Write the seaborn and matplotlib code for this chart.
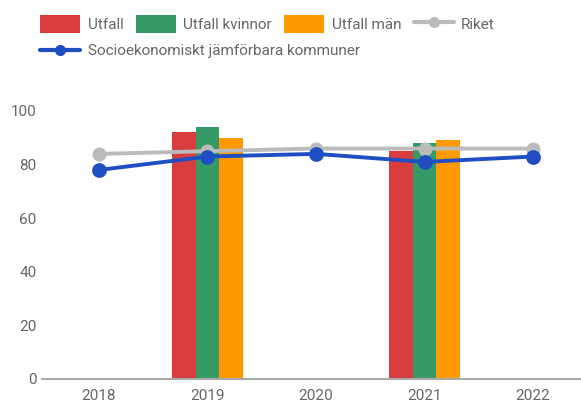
import matplotlib
matplotlib.use("Agg")
import matplotlib.pyplot as plt
from matplotlib.patches import Patch
from matplotlib.lines import Line2D
import seaborn as sns
import pandas as pd

# Data
years = ["2018", "2019", "2020", "2021", "2022"]
bar_years = ["2019", "2019", "2019", "2021", "2021", "2021"]
bar_series = ["Utfall", "Utfall kvinnor", "Utfall män",
              "Utfall", "Utfall kvinnor", "Utfall män"]
bar_values = [92, 94, 90, 85, 88, 89]
riket = [84, 85, 86, 86, 86]
socio = [78, 83, 84, 81, 83]
y_ticks = [0, 20, 40, 60, 80, 100]

series_names = ["Utfall", "Utfall kvinnor", "Utfall män"]
colors = {"Utfall": "#D93D3D", "Utfall kvinnor": "#359A66", "Utfall män": "#FF9900"}
gray = "#BBBBBB"
blue = "#1F4EC2"
text_color = "#666666"

sns.set_theme(style="white")
plt.rcParams["font.family"] = ["Roboto", "DejaVu Sans"]

W, H = 581, 405
fig = plt.figure(figsize=(W / 100, H / 100), dpi=100)
ax = fig.add_axes([42 / W, 26 / H, 1 - 42 / W, (379 - 111) / H])

df_bar = pd.DataFrame({"år": bar_years, "serie": bar_series, "värde": bar_values})
sns.barplot(data=df_bar, x="år", y="värde", hue="serie", order=years,
            hue_order=series_names, palette=colors, width=0.66, dodge=True,
            saturation=1, errorbar=None, legend=False, linewidth=0,
            ax=ax, zorder=2)

df_riket = pd.DataFrame({"år": years, "värde": riket})
df_socio = pd.DataFrame({"år": years, "värde": socio})
sns.pointplot(data=df_riket, x="år", y="värde", order=years, color=gray,
              markers="o", markersize=8, linewidth=2.8, errorbar=None, ax=ax)
sns.pointplot(data=df_socio, x="år", y="värde", order=years, color=blue,
              markers="o", markersize=8.5, linewidth=2.8, errorbar=None, ax=ax)

ax.set_xlim(-0.525, 4.442)
ax.set_ylim(0, 100)
ax.set_yticks(y_ticks)
ax.set_xlabel("")
ax.set_ylabel("")
for s in ["top", "right", "left"]:
    ax.spines[s].set_visible(False)
ax.spines["bottom"].set_color("#AAAAAA")
ax.spines["bottom"].set_linewidth(1.5)
ax.tick_params(axis="both", length=0, labelsize=11, colors=text_color)
ax.tick_params(axis="x", pad=7)
ax.tick_params(axis="y", pad=4)

# Legend, first row
handles1 = [Patch(facecolor=colors[n], edgecolor="none") for n in series_names]
handles1.append(Line2D([], [], color=gray, lw=3, marker="o", markersize=7))
labels1 = series_names + ["Riket"]
fig.legend(handles1, labels1, loc="center left",
           bbox_to_anchor=(40 / W, 1 - 24 / H), ncol=4, frameon=False,
           fontsize=11, handlelength=2.62, handleheight=1.5,
           handletextpad=0.5, columnspacing=0.8, borderpad=0,
           borderaxespad=0, labelcolor=text_color)
# Second row
handles2 = [Line2D([], [], color=blue, lw=3, marker="o", markersize=7)]
fig.legend(handles2, ["Socioekonomiskt jämförbara kommuner"], loc="center left",
           bbox_to_anchor=(40 / W, 1 - 51 / H), frameon=False, fontsize=11,
           handlelength=2.62, handletextpad=0.5, borderpad=0, borderaxespad=0,
           labelcolor=text_color)

fig.savefig("out.png", dpi=100)
